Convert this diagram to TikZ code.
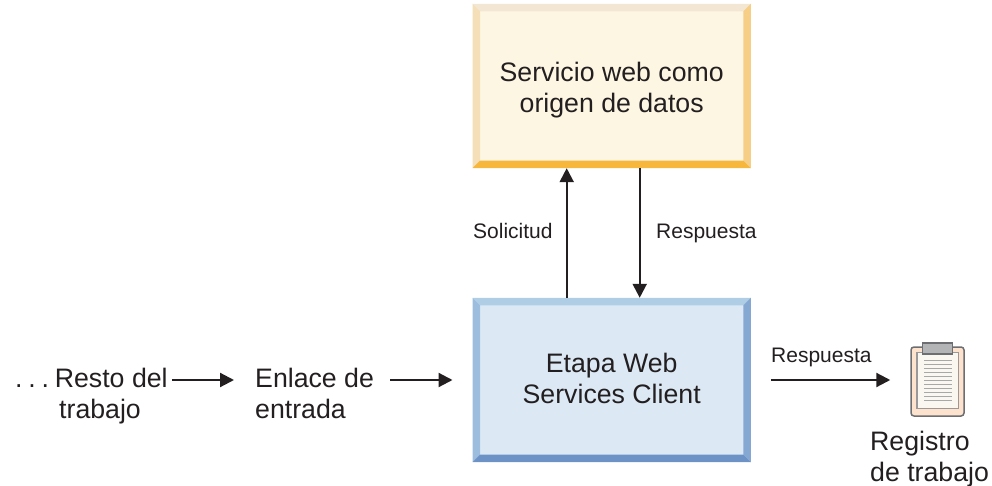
\documentclass[tikz,border=0pt]{standalone}
\usepackage{fontspec}
\setmainfont{Liberation Sans}
\usetikzlibrary{arrows.meta}

\definecolor{textgray}{HTML}{231F20}
\definecolor{clipgray}{HTML}{6D6E71}

\tikzset{
    caja/.style={minimum width=278, minimum height=164, inner sep=0pt},
    cajatexto/.style={align=center, inner sep=0pt, font=\fontsize{26.7}{31}\selectfont, text=textgray},
    texto/.style={align=left, inner sep=2pt, font=\fontsize{26.7}{31}\selectfont, text=textgray},
    rotulo/.style={inner sep=0pt, anchor=base west, font=\fontsize{21}{25}\selectfont, text=textgray},
    flecha/.style={draw=textgray, line width=2.2, -{Triangle[length=14,width=14]}},
}

\begin{document}
\begin{tikzpicture}[x=1pt, y=-1pt]
    \useasboundingbox (0,0) rectangle (992,486);

    % Cajas
    \node[caja, fill={rgb,255:red,253;green,246;blue,227}] (origen) at (611.7,86) {};
    \node[caja, fill={rgb,255:red,220;green,233;blue,245}] (etapa) at (611.7,380) {};
    \node[cajatexto] (origentexto) at ([yshift=-4]origen.center) {Servicio web como\\origen de datos};
    \node[cajatexto] (etapatexto) at ([yshift=1.5]etapa.center) {Etapa Web\\Services Client};

    % Biselado de las cajas
    \def\bis{7.5}
    \foreach \caja/\carr/\cizq/\cder/\cabj in {origen/F3E7D3/F4DFB9/F6CE85/F6B73C, etapa/B0CDE6/9DBDDF/85A8D2/6C92C6} {
        \definecolor{carr}{HTML}{\carr}
        \definecolor{cizq}{HTML}{\cizq}
        \definecolor{cder}{HTML}{\cder}
        \definecolor{cabj}{HTML}{\cabj}
        \fill[carr] (\caja.north west) -- (\caja.north east) -- ([shift={(-\bis,\bis)}]\caja.north east) -- ([shift={(\bis,\bis)}]\caja.north west) -- cycle;
        \fill[cizq] (\caja.north west) -- (\caja.south west) -- ([shift={(\bis,-\bis)}]\caja.south west) -- ([shift={(\bis,\bis)}]\caja.north west) -- cycle;
        \fill[cder] (\caja.north east) -- (\caja.south east) -- ([shift={(-\bis,-\bis)}]\caja.south east) -- ([shift={(-\bis,\bis)}]\caja.north east) -- cycle;
        \fill[cabj] (\caja.south west) -- (\caja.south east) -- ([shift={(-\bis,-\bis)}]\caja.south east) -- ([shift={(\bis,-\bis)}]\caja.south west) -- cycle;
    }

    % Textos
    \node[texto, anchor=west] (resto) at (13,396) {.\kern5.8pt.\kern5.8pt.\kern5.8pt Resto del\\\hspace{44pt}trabajo};
    \node[texto, anchor=west] (enlace) at (253,393) {Enlace de\\entrada};
    \node[texto, anchor=west, inner sep=0pt] (registro) at (870,459) {Registro\\de trabajo};

    % Tablilla
    \node[minimum width=53, minimum height=69, inner sep=0pt, rounded corners=3, draw=clipgray, line width=1.5, fill={rgb,255:red,253;green,226;blue,205}] (tablilla) at (937.5,381.5) {};
    \fill[draw=clipgray!70, line width=1.5, fill={rgb,255:red,250;green,247;blue,240}] (917,352.5) rectangle (958.5,408.5);
    \foreach \y in {360,364,...,400} {
        \draw[clipgray!60, line width=0.8] (924,\y) -- (952,\y);
    }
    \fill[draw=clipgray, line width=1.5, fill={rgb,255:red,178;green,180;blue,182}] (922.5,343) rectangle (952.5,354);

    % Flechas
    \draw[flecha] ([xshift=-45]etapa.north) -- ([xshift=-45]origen.south);
    \draw[flecha] ([xshift=28]origen.south) -- ([xshift=28]etapa.north);
    \draw[flecha, shorten <=2, shorten >=19] (resto.east |- etapa) -- (enlace.west |- etapa);
    \draw[flecha, shorten <=14, shorten >=20] (enlace.east |- etapa) -- (etapa.west);
    \draw[flecha, shorten <=20, shorten >=20] (etapa.east) -- (tablilla.west |- etapa);

    % Rotulos
    \node[rotulo] (solicitud) at (473,239) {Solicitud};
    \node[rotulo] (respuestaa) at (656,239) {Respuesta};
    \node[rotulo] (respuestab) at (771,362) {Respuesta};
\end{tikzpicture}
\end{document}
